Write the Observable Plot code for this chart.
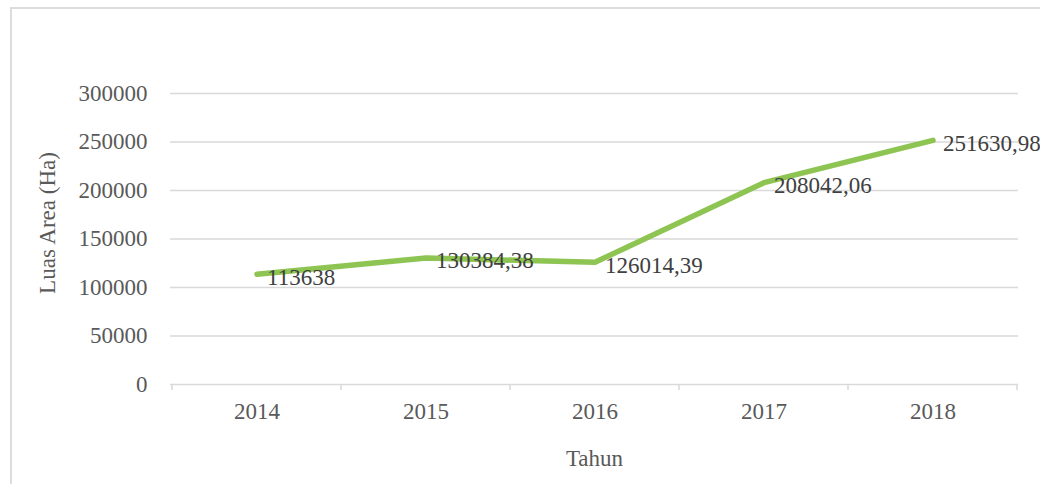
<!DOCTYPE html>
<html><head><meta charset="utf-8">
<script src="https://cdn.jsdelivr.net/npm/d3@7"></script>
<script src="https://cdn.jsdelivr.net/npm/@observablehq/plot@0.6"></script>
<style>
html,body{margin:0;padding:0;background:#fff;overflow:hidden;}
#wrap{position:relative;width:1040px;height:484px;}
#border{position:absolute;left:10px;top:7px;width:1100px;height:600px;border:2px solid #dcdcdc;box-sizing:border-box;}
#chart{position:absolute;left:0;top:0;}
</style></head><body>
<div id="wrap"><div id="border"></div><div id="chart"></div></div>
<script>
const years = ["2014", "2015", "2016", "2017", "2018"];
const values = [113638, 130384.38, 126014.39, 208042.06, 251630.98];
const valueLabels = ["113638", "130384,38", "126014,39", "208042,06", "251630,98"];
const yTicks = [0, 50000, 100000, 150000, 200000, 250000, 300000];
const xTitle = "Tahun";
const yTitle = "Luas Area (Ha)";

const data = years.map((y, i) => ({year: y, value: values[i], label: valueLabels[i]}));
const serif = "'Liberation Serif', 'Times New Roman', serif";

// tick marks at the category boundaries, computed from the band scale
const boundaryTicks = (index, scales, channels, dims) => {
  const x = scales.x, y = scales.y;
  const bw = x(years[1]) - x(years[0]);
  const pos = years.map(d => x(d)).concat([x(years[years.length - 1]) + bw]);
  const g = d3.create("svg:g").attr("stroke", "#d9d9d9").attr("stroke-width", 1.5);
  const y0 = y(0);
  for (const p of pos) {
    g.append("line").attr("x1", p).attr("x2", p).attr("y1", y0).attr("y2", y0 + 6);
  }
  return g.node();
};

const plot = Plot.plot({
  width: 1040,
  height: 484,
  marginLeft: 170,
  marginRight: 22,
  marginTop: 93,
  marginBottom: 100,
  style: {fontFamily: serif, fontSize: "23px", color: "#595959", background: "transparent", overflow: "visible"},
  x: {type: "band", domain: years, padding: 0},
  y: {domain: [0, 300000]},
  marks: [
    Plot.ruleY(yTicks, {stroke: "#d9d9d9", strokeWidth: 1.5}),
    boundaryTicks,
    Plot.axisY({ticks: yTicks, tickSize: 0, tickPadding: 23, tickFormat: d => String(d), label: null, fontFamily: serif}),
    Plot.axisX({tickSize: 0, tickPadding: 18, label: null, fontFamily: serif}),
    Plot.line(data, {x: "year", y: "value", stroke: "#8dc452", strokeWidth: 5.5, strokeLinecap: "round", strokeLinejoin: "round"}),
    Plot.text(data, {x: "year", y: "value", text: "label", textAnchor: "start", dx: 10, dy: 3, fill: "#404040", fontSize: 23, fontFamily: serif}),
    Plot.text([yTitle], {frameAnchor: "left", textAnchor: "middle", lineAnchor: "middle", rotate: -90, dx: -123, dy: -16, fill: "#595959", fontSize: 23, fontFamily: serif}),
    Plot.text([xTitle], {frameAnchor: "bottom", textAnchor: "middle", lineAnchor: "middle", dy: 74, fill: "#595959", fontSize: 23, fontFamily: serif})
  ]
});
document.getElementById("chart").appendChild(plot);
</script>
</body></html>
